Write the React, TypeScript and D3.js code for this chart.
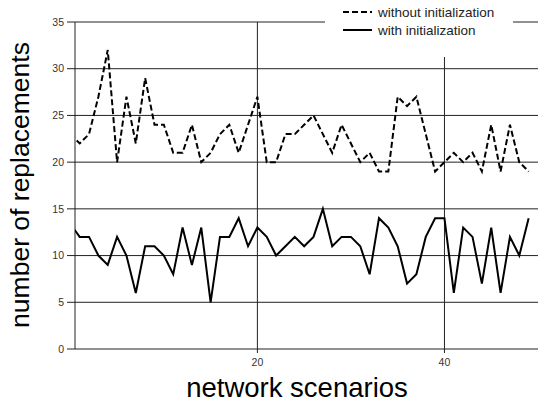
import React from 'react';
import * as d3 from 'd3';

// scenario index (0 sits left of the axis and gets clipped)
const scenarios = d3.range(0, 50);

const withoutInit = [
  23, 22, 23, 27, 32, 20, 27, 22, 29, 24, 24, 21, 21, 24, 20, 21, 23, 24, 21, 24,
  27, 20, 20, 23, 23, 24, 25, 23, 21, 24, 22, 20, 21, 19, 19, 27, 26, 27, 23, 19,
  20, 21, 20, 21, 19, 24, 19, 24, 20, 19,
];

const withInit = [
  13.4, 12, 12, 10, 9, 12, 10, 6, 11, 11, 10, 8, 13, 9, 13, 5, 12, 12, 14, 11,
  13, 12, 10, 11, 12, 11, 12, 15, 11, 12, 12, 11, 8, 14, 13, 11, 7, 8, 12, 14,
  14, 6, 13, 12, 7, 13, 6, 12, 10, 14,
];

const yTicks = [0, 5, 10, 15, 20, 25, 30, 35];
const xTicks = [20, 40];
const legendLabels = ['without initialization', 'with initialization'];

const W = 550;
const H = 408;

export default function App() {
  const x = d3.scaleLinear().domain([0.5, 50]).range([75, 538]);
  const y = d3.scaleLinear().domain([0, 35]).range([349, 22]);

  const line = d3
    .line<number>()
    .x((d, i) => x(scenarios[i]))
    .y((d) => y(d));

  const grid = '#222';

  return (
    <div style={{ position: 'absolute', left: 0, top: 0 }}>
      <svg width={W} height={H} style={{ display: 'block', background: '#fff' }}>
        <defs>
          <clipPath id="plot">
            <rect x={x(0.5)} y={0} width={x(50) - x(0.5)} height={H} />
          </clipPath>
        </defs>

        {/* horizontal grid + y ticks */}
        {yTicks.map((t) => (
          <g key={t}>
            <line x1={67} x2={x(50)} y1={y(t)} y2={y(t)} stroke={grid} strokeWidth={1} />
            <text
              x={64}
              y={y(t)}
              dy="0.35em"
              textAnchor="end"
              fontFamily="Liberation Sans, Arial, sans-serif"
              fontSize={10.5}
              fill="#333"
            >
              {t}
            </text>
          </g>
        ))}

        {/* vertical grid + x ticks */}
        {xTicks.map((t) => (
          <g key={t}>
            <line x1={x(t)} x2={x(t)} y1={y(35)} y2={353} stroke={grid} strokeWidth={1} />
            <text
              x={x(t)}
              y={366}
              textAnchor="middle"
              fontFamily="Liberation Sans, Arial, sans-serif"
              fontSize={10.5}
              fill="#333"
            >
              {t}
            </text>
          </g>
        ))}

        {/* y axis */}
        <line x1={x(0.5)} x2={x(0.5)} y1={y(35)} y2={y(0)} stroke={grid} strokeWidth={1} />

        <g clipPath="url(#plot)" fill="none" stroke="#000" strokeWidth={2} strokeLinejoin="miter">
          <path d={line(withoutInit) || ''} strokeDasharray="6,3" />
          <path d={line(withInit) || ''} />
        </g>

        {/* legend */}
        <rect x={325} y={0} width={188} height={57} fill="#fff" />
        <g fontFamily="Liberation Sans, Arial, sans-serif" fontSize={13.5} fill="#222">
          <line x1={343} x2={372} y1={12} y2={12} stroke="#000" strokeWidth={2} strokeDasharray="6,3" />
          <text x={378} y={17}>{legendLabels[0]}</text>
          <line x1={343} x2={372} y1={30} y2={30} stroke="#000" strokeWidth={2} />
          <text x={378} y={35}>{legendLabels[1]}</text>
        </g>

        {/* axis titles */}
        <text
          transform="translate(29,185) rotate(-90)"
          textAnchor="middle"
          fontFamily="Liberation Sans, Arial, sans-serif"
          fontSize={26.5}
          fill="#000"
        >
          number of replacements
        </text>
        <text
          x={297}
          y={397}
          textAnchor="middle"
          fontFamily="Liberation Sans, Arial, sans-serif"
          fontSize={27.5}
          fill="#000"
        >
          network scenarios
        </text>
      </svg>
    </div>
  );
}
